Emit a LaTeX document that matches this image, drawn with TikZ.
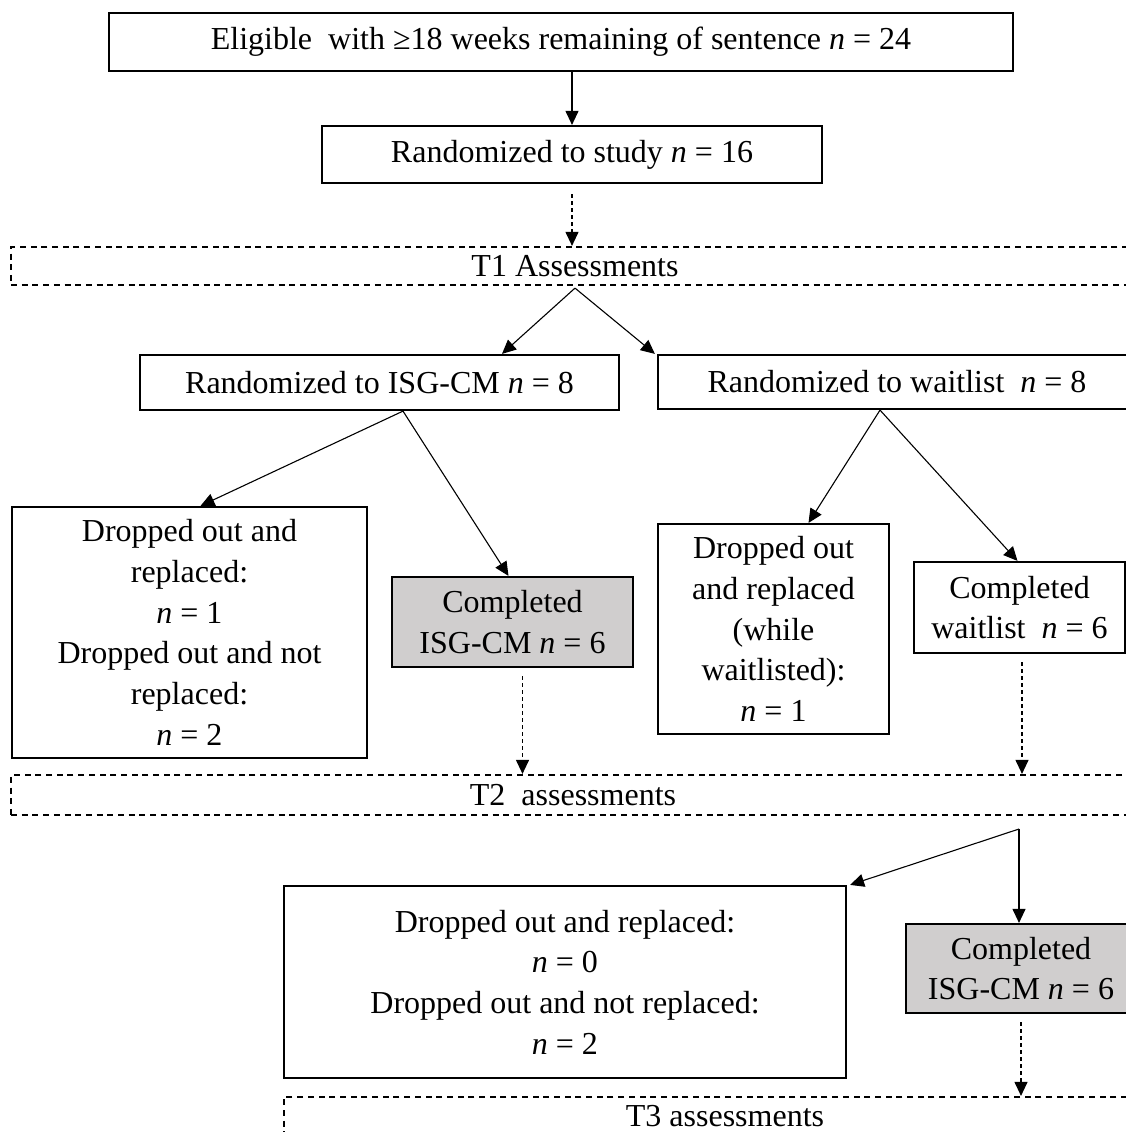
\documentclass[tikz,border=0pt]{standalone}
\usepackage{fontspec}
\setmainfont{Liberation Serif}
\usetikzlibrary{arrows.meta}
\definecolor{boxgray}{RGB}{208,206,206}
\tikzset{
  box/.style={draw, line width=2.2pt, align=center, inner sep=0pt,
    font=\fontsize{32}{40.7}\selectfont},
  gbox/.style={box, fill=boxgray},
  dbox/.style={draw, line width=2.2pt, dash pattern=on 6pt off 4.7pt, inner sep=0pt,
    font=\fontsize{32}{40.7}\selectfont},
  arr/.style={-{Triangle[length=14pt,width=13pt]}, line width=1.1pt},
  darr/.style={arr, dash pattern=on 4pt off 3pt},
}
\begin{document}
\begin{tikzpicture}[x=1pt,y=-1pt]
\useasboundingbox (0,0) rectangle (1126,1132);
\clip (0,0) rectangle (1126,1132);
\fill[white] (0,0) rectangle (1126,1132);

\node[box, minimum width=904pt, minimum height=58pt] (elig) at (561,42)
  {Eligible\ \ with \mbox{≥}18 weeks remaining of sentence \textit{n} = 24};
\node[box, minimum width=500pt, minimum height=57pt] (rstudy) at (572,154.5)
  {Randomized to study \textit{n} = 16};
\node[dbox, minimum width=1128pt, minimum height=38pt] (t1) at (575,266)
  {T1 Assessments};
\node[box, minimum width=479pt, minimum height=55pt] (isg) at (379.5,382.5)
  {Randomized to ISG-CM \textit{n} = 8};
\node[box, minimum width=478pt, minimum height=54pt] (wait) at (897,382)
  {Randomized to waitlist\ \ \textit{n} = 8};
\node[box, minimum width=355pt, minimum height=251pt] (drop1) at (189.5,632.5)
  {Dropped out and\\replaced:\\\textit{n} = 1\\Dropped out and not\\replaced:\\\textit{n} = 2};
\node[gbox, minimum width=241pt, minimum height=90pt] (comp1) at (512.5,622)
  {Completed\\ISG-CM \textit{n} = 6};
\node[box, minimum width=231pt, minimum height=210pt] (drop2) at (773.5,629)
  {Dropped out\\and replaced\\(while\\waitlisted):\\\textit{n} = 1};
\node[box, minimum width=211pt, minimum height=91pt] (comp2) at (1019.5,607.5)
  {Completed\\waitlist\ \ \textit{n} = 6};
\node[dbox, minimum width=1124pt, minimum height=40pt] (t2) at (573,795)
  {T2\ \ assessments};
\coordinate (split) at (1019,829);
\node[box, minimum width=562pt, minimum height=192pt] (drop3) at (565,982)
  {Dropped out and replaced:\\\textit{n} = 0\\Dropped out and not replaced:\\\textit{n} = 2};
\node[gbox, minimum width=230pt, minimum height=89pt] (comp3) at (1021,968.5)
  {Completed\\ISG-CM \textit{n} = 6};
\node[dbox, minimum width=882pt, minimum height=42pt] (t3) at (725,1118)
  {\raisebox{4pt}{T3 assessments}};

% connectors
\draw[arr] (rstudy.north |- elig.south) -- (rstudy.north);
\draw[darr] ([yshift=-10pt]rstudy.south) -- (rstudy.south |- t1.north);
\draw[arr] ([yshift=-2pt]t1.south) -- ([xshift=122.5pt]isg.north);
\draw[arr] ([yshift=-2pt]t1.south) -- ([xshift=-2pt]wait.north west);
\draw[arr] ([xshift=23.5pt]isg.south) -- ([xshift=11pt]drop1.north);
\draw[arr] ([xshift=23.5pt]isg.south) -- ([xshift=-4pt]comp1.north);
\draw[arr] ([xshift=-17pt]wait.south) -- ([xshift=35pt]drop2.north);
\draw[arr] ([xshift=-17pt]wait.south) -- ([xshift=-2pt]comp2.north);
\draw[darr] ([xshift=10pt,yshift=-8pt]comp1.south) -- ([xshift=10pt]comp1.south |- t2.north);
\draw[darr] ([xshift=2.5pt,yshift=-8pt]comp2.south) -- ([xshift=2.5pt]comp2.south |- t2.north);
\draw[arr] (split) -- ([xshift=3pt]drop3.north east);
\draw[arr] (split) -- (split |- comp3.north);
\draw[darr] ([yshift=-8pt]comp3.south) -- (comp3.south |- t3.north);
\end{tikzpicture}
\end{document}
